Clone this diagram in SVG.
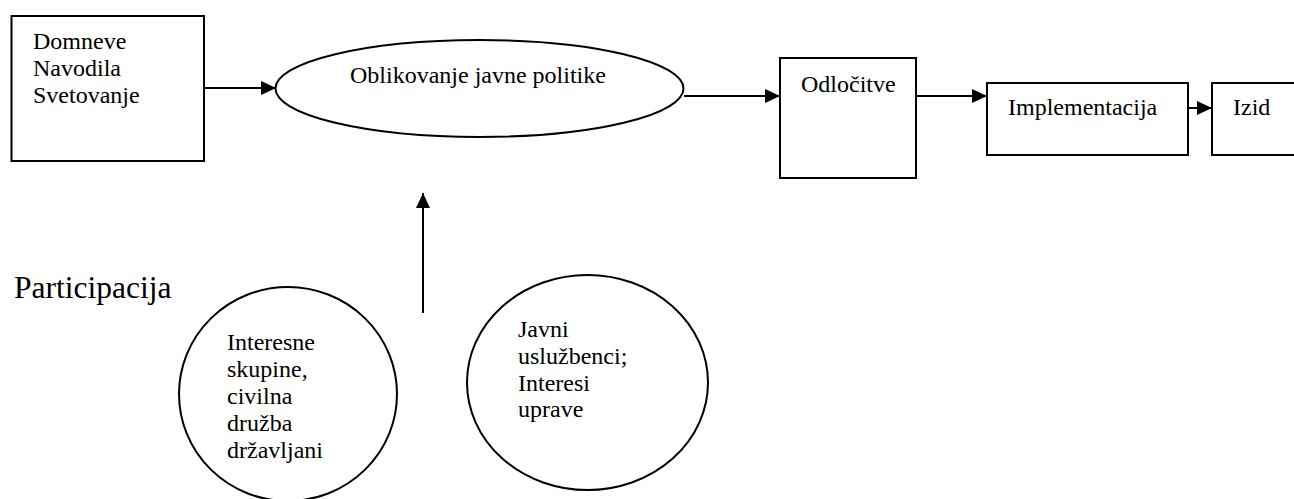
<svg xmlns="http://www.w3.org/2000/svg" width="1294" height="499" viewBox="0 0 1294 499">
  <style>
    .shape { fill: #ffffff; stroke: #000000; stroke-width: 2; }
    .lbl { font-family: "Liberation Serif", "Times New Roman", serif; font-size: 24px; fill: #000000; }
    .big { font-family: "Liberation Serif", "Times New Roman", serif; font-size: 31.5px; fill: #000000; }
    .edge { stroke: #000000; stroke-width: 2; fill: none; }
  </style>
  <defs>
    <marker id="arrow" markerWidth="15" markerHeight="14" refX="15" refY="7" orient="auto" markerUnits="userSpaceOnUse">
      <path d="M0,0 L15,7 L0,14 Z" fill="#000000"/>
    </marker>
  </defs>
  <rect width="1294" height="499" fill="#ffffff"/>

  <!-- connectors -->
  <g id="connectors">
    <line class="edge" x1="204" y1="88" x2="276" y2="88" marker-end="url(#arrow)"/>
    <line class="edge" x1="684" y1="96" x2="780" y2="96" marker-end="url(#arrow)"/>
    <line class="edge" x1="916" y1="96" x2="987" y2="96" marker-end="url(#arrow)"/>
    <line class="edge" x1="1188" y1="108" x2="1212" y2="108" marker-end="url(#arrow)"/>
    <line class="edge" x1="423" y1="313" x2="423" y2="193" marker-end="url(#arrow)"/>
  </g>

  <g id="node-domneve">
    <rect class="shape" x="11.5" y="16" width="192.5" height="145"/>
    <text class="lbl" x="33" y="49">Domneve</text>
    <text class="lbl" x="33" y="76">Navodila</text>
    <text class="lbl" x="33" y="103">Svetovanje</text>
  </g>

  <g id="node-oblikovanje">
    <ellipse class="shape" cx="479.5" cy="88.5" rx="204" ry="48.5"/>
    <text class="lbl" x="350" y="83">Oblikovanje javne politike</text>
  </g>

  <g id="node-odlocitve">
    <rect class="shape" x="780" y="58" width="136" height="120"/>
    <text class="lbl" x="801" y="92">Odločitve</text>
  </g>

  <g id="node-implementacija">
    <rect class="shape" x="987" y="83" width="201" height="72"/>
    <text class="lbl" x="1008" y="115">Implementacija</text>
  </g>

  <g id="node-izid">
    <rect class="shape" x="1212" y="83" width="100" height="72"/>
    <text class="lbl" x="1233" y="115">Izid</text>
  </g>

  <g id="label-participacija">
    <text class="big" x="14" y="298">Participacija</text>
  </g>

  <g id="node-interesne">
    <ellipse class="shape" cx="288" cy="394" rx="109" ry="107"/>
    <text class="lbl" x="227" y="350">Interesne</text>
    <text class="lbl" x="227" y="377">skupine,</text>
    <text class="lbl" x="227" y="404">civilna</text>
    <text class="lbl" x="227" y="431">družba</text>
    <text class="lbl" x="227" y="458">državljani</text>
  </g>

  <g id="node-javni">
    <ellipse class="shape" cx="587.5" cy="382.5" rx="120.5" ry="107.5"/>
    <text class="lbl" x="518" y="337">Javni</text>
    <text class="lbl" x="518" y="364">uslužbenci;</text>
    <text class="lbl" x="518" y="391">Interesi</text>
    <text class="lbl" x="518" y="417">uprave</text>
  </g>
</svg>
